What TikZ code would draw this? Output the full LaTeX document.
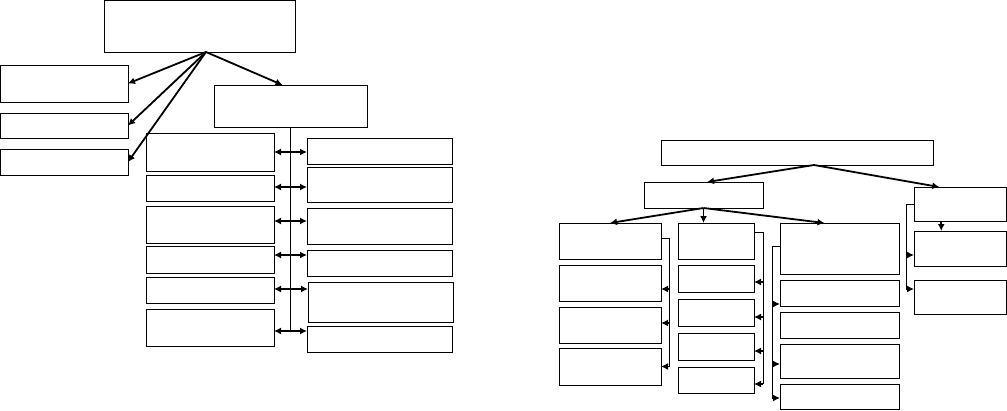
\documentclass[tikz,border=0pt]{standalone}
\usepackage{tikz}
\usetikzlibrary{arrows.meta}
\tikzset{
	box/.style={draw, line width=0.9pt, anchor=north west, inner sep=0pt, outer sep=0pt},
	link/.style={line width=0.9pt},
	conn/.style={line width=1.8pt, ->},
	stub/.style={line width=1.8pt, ->},
}

\begin{document}
\begin{tikzpicture}[x=1pt, y=-1pt, >={Latex[length=7pt,width=7pt]}]
		\useasboundingbox (0,0) rectangle (1007,410);
		% left chart
		\node[box, minimum width=191pt, minimum height=51.5pt] (top) at (104,0.5) {};
		\node[box, minimum width=127.5pt, minimum height=37pt] (la) at (0.5,65) {};
		\node[box, minimum width=127.5pt, minimum height=25pt] (lb) at (0.5,113) {};
		\node[box, minimum width=127.5pt, minimum height=26pt] (lc) at (0.5,149) {};
		\node[box, minimum width=153pt, minimum height=42pt] (d) at (214,85) {};
		
		\node[box, minimum width=128pt, minimum height=38pt] (l1) at (146,133) {};
		\node[box, minimum width=128pt, minimum height=26pt] (l2) at (146,175) {};
		\node[box, minimum width=128pt, minimum height=37pt] (l3) at (146,206) {};
		\node[box, minimum width=128pt, minimum height=27pt] (l4) at (146,246) {};
		\node[box, minimum width=128pt, minimum height=26pt] (l5) at (146,277) {};
		\node[box, minimum width=128pt, minimum height=37pt] (l6) at (146,309) {};
		
		\node[box, minimum width=145pt, minimum height=26pt] (r1) at (307,138) {};
		\node[box, minimum width=145pt, minimum height=35pt] (r2) at (307,167) {};
		\node[box, minimum width=145pt, minimum height=36pt] (r3) at (307,208) {};
		\node[box, minimum width=145pt, minimum height=26pt] (r4) at (307,250) {};
		\node[box, minimum width=145pt, minimum height=40pt] (r5) at (308,282) {};
		\node[box, minimum width=145pt, minimum height=26pt] (r6) at (307,326) {};
		
		\coordinate (hubA) at ([xshift=6.5pt]top.south);
		\draw[conn] (hubA) -- (la.east);
		\draw[conn] (hubA) -- (lb.east);
		\draw[conn] (hubA) -- (lc.east);
		\draw[conn] (hubA) -- ([xshift=-8pt]d.north);
		
		\foreach \i/\s in {1/0,2/1,3/3.5,4/4.5,5/1,6/-3.5} {
			\path ([yshift=\s pt]l\i.east) coordinate (a\i);
			\draw[<->, line width=1.8pt] (a\i) -- (a\i -| r\i.west);
		}
		\draw[link] (d.south) -- ([yshift=-1pt]d.south |- a6);
		
		% right chart
		\node[box, minimum width=272pt, minimum height=25pt] (e) at (661,140) {};
		\node[box, minimum width=119pt, minimum height=26pt] (f) at (644,182) {};
		\node[box, minimum width=92.5pt, minimum height=34pt] (g) at (914,187) {};
		
		\node[box, minimum width=102pt, minimum height=36pt] (c1) at (559,223) {};
		\node[box, minimum width=102pt, minimum height=36pt] (c2) at (559,265) {};
		\node[box, minimum width=102pt, minimum height=36pt] (c3) at (559,307) {};
		\node[box, minimum width=102pt, minimum height=37pt] (c4) at (559,348) {};
		
		\node[box, minimum width=76pt, minimum height=36pt] (k1) at (678,223) {};
		\node[box, minimum width=76pt, minimum height=27pt] (k2) at (678,265) {};
		\node[box, minimum width=76pt, minimum height=27pt] (k3) at (678,299) {};
		\node[box, minimum width=76pt, minimum height=27pt] (k4) at (678,333) {};
		\node[box, minimum width=76pt, minimum height=26pt] (k5) at (678,367) {};
		
		\node[box, minimum width=119pt, minimum height=51pt] (m1) at (780,223) {};
		\node[box, minimum width=119pt, minimum height=26pt] (m2) at (780,280) {};
		\node[box, minimum width=119pt, minimum height=26pt] (m3) at (780,312) {};
		\node[box, minimum width=119pt, minimum height=34pt] (m4) at (780,344) {};
		\node[box, minimum width=119pt, minimum height=25pt] (m5) at (780,384) {};
		
		\node[box, minimum width=92.5pt, minimum height=35pt] (h) at (914,231) {};
		\node[box, minimum width=92.5pt, minimum height=34pt] (i) at (914,280) {};
		
		\coordinate (hubB) at ([xshift=17pt]e.south);
		\draw[conn] (hubB) -- ([xshift=3.5pt]f.north);
		\draw[conn] (hubB) -- ([xshift=-21pt]g.north);
		\draw[conn] (f.south) -- (c1.north);
		\draw[conn] (f.south) -- (f.south |- k1.north);
		\draw[conn] (f.south) -- ([xshift=-15pt]m1.north);
		\draw[conn] ([xshift=-19pt]g.south) -- ([xshift=-19pt]h.north);
		
		% brackets
		\coordinate (b1) at (669,238);
		\foreach \n/\s in {2/-6,3/2,4/0} {
			\path ([yshift=\s pt]c\n.east) coordinate (q\n);
			\draw[stub] (q\n -| b1) -- (q\n);
		}
		\draw[link] (c1.east |- b1) -- (b1) -- (b1 |- q4);
		
		\coordinate (b2) at (763,232);
		\foreach \n/\s in {2/-3.5,3/-4.5,4/-4.5,5/-4} {
			\path ([yshift=\s pt]k\n.east) coordinate (t\n);
			\draw[stub] (t\n -| b2) -- (t\n);
		}
		\draw[link] (k1.east |- b2) -- (b2) -- (b2 |- t5);
		
		\coordinate (b3) at (772,246);
		\foreach \n/\s in {2/-11,4/-3,5/-1.5} {
			\path ([yshift=\s pt]m\n.west) coordinate (p\n);
			\draw[stub] (p\n -| b3) -- (p\n);
		}
		\draw[link] (m1.west |- b3) -- (b3) -- (b3 |- p5);
		
		\coordinate (b4) at (906,204);
		\path ([yshift=-6.5pt]h.west) coordinate (s1);
		\path ([yshift=8pt]i.west) coordinate (s2);
		\draw[stub] (s1 -| b4) -- (s1);
		\draw[stub] (s2 -| b4) -- (s2);
		\draw[link] (g.west) -- (b4) -- (b4 |- s2);
	\end{tikzpicture}
\end{document}
